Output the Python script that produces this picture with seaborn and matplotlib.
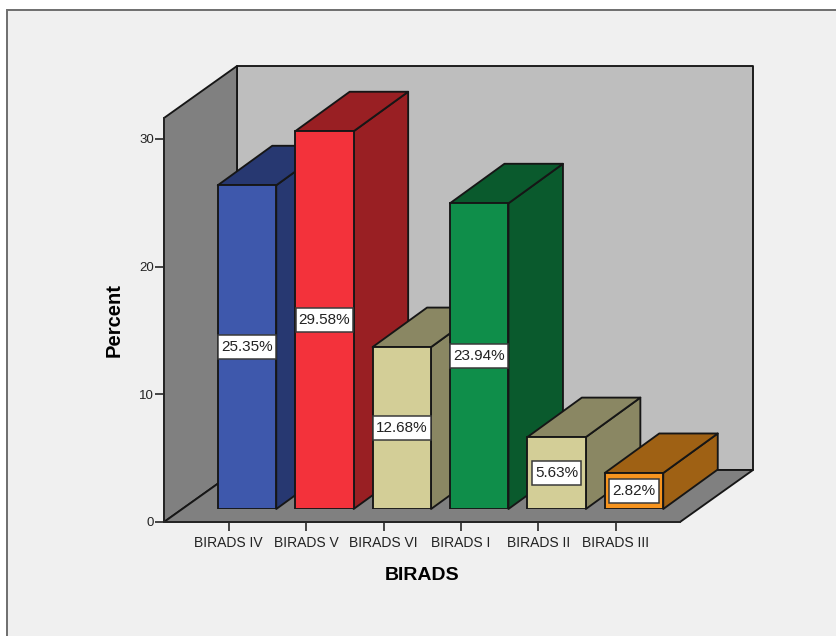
import matplotlib
matplotlib.use("Agg")
import matplotlib.pyplot as plt
import pandas as pd
import seaborn as sns
from matplotlib.patches import Polygon, Rectangle
from matplotlib.transforms import IdentityTransform

# Data
categories = ["BIRADS IV", "BIRADS V", "BIRADS VI", "BIRADS I", "BIRADS II", "BIRADS III"]
percents = [25.35, 29.58, 12.68, 23.94, 5.63, 2.82]
y_ticks = [0, 10, 20, 30]

front_colors = ["#3E58AC", "#F3323B", "#D3CE97", "#0F8E4A", "#D3CE97", "#F7941E"]
shade_colors = ["#273871", "#991F23", "#8A8763", "#0A5A2D", "#8A8763", "#9F6114"]

line_color = "#161616"
text_color = "#222222"
bg_color = "#F0F0F0"
edge_w = 1.35

# Pixel layout of the fake 3D box
W, H = 836, 636
box_left, box_right, box_bottom, box_top = 164, 680, 522, 118
px_per_unit = 12.77
floor_dx, floor_dy = 73, 52     # depth of the floor
bar_dx, bar_dy = 54.5, 39.5     # depth of a bar
shift_x, shift_y = 18.3, 13     # bars stand a bit behind the front edge
slot = 77.4
bar_width = 58.5 / slot

df = pd.DataFrame({"birads": categories, "percent": percents})

sns.set_theme(style="white")
plt.rcParams["font.family"] = ["Liberation Sans", "DejaVu Sans"]
plt.rcParams["axes.linewidth"] = edge_w

fig = plt.figure(figsize=(W / 100, H / 100), dpi=100, facecolor="white")

# Outer panel, runs off the right and bottom of the image
fig.add_artist(Rectangle((7, -10), W, H - 10 - 7 + 17, transform=IdentityTransform(),
                         facecolor=bg_color, edgecolor="#6e6e6e", linewidth=1.4, zorder=-1))

pos = [box_left / W, (H - box_bottom) / H, (box_right - box_left) / W, (box_bottom - box_top) / H]
ax = fig.add_axes(pos)
ax.patch.set_visible(False)
xlim = ((box_left - 228.7) / slot, (box_right - 228.7) / slot)
ylim = (0, (box_bottom - box_top) / px_per_unit)
ax.set_xlim(xlim)
ax.set_ylim(ylim)

# Walls and floor
ll = (box_left, H - box_bottom)
lr = (box_right, H - box_bottom)
ul = (box_left, H - box_top)
b_ll = (ll[0] + floor_dx, ll[1] + floor_dy)
b_lr = (lr[0] + floor_dx, lr[1] + floor_dy)
b_ul = (ul[0] + floor_dx, ul[1] + floor_dy)
b_ur = (b_lr[0], b_ul[1])
for verts, color in [([b_ll, b_lr, b_ur, b_ul], "#BEBEBE"),
                     ([ll, b_ll, b_ul, ul], "#808080"),
                     ([ll, lr, b_lr, b_ll], "#808080")]:
    ax.add_patch(Polygon(verts, closed=True, transform=IdentityTransform(), clip_on=False,
                         facecolor=color, edgecolor=line_color, linewidth=edge_w,
                         joinstyle="round", zorder=1))

sns.despine(ax=ax, top=True, right=True)
ax.set_xticks(range(len(categories)), categories)
ax.set_yticks(y_ticks)
ax.tick_params(axis="x", length=6.5, width=1.1, color=line_color, labelsize=10,
               labelcolor=text_color, pad=3.5, bottom=True)
ax.tick_params(axis="y", length=6.5, width=1.1, color=line_color, labelsize=9.5,
               labelcolor=text_color, pad=0.8, left=True)
ax.set_xlabel("BIRADS", fontsize=14, fontweight="bold", color="black", labelpad=12)
ax.set_ylabel("Percent", fontsize=14.5, fontweight="bold", color="black", labelpad=11)

# Bars live on a second axes, shifted into the box
ax_bars = fig.add_axes([pos[0] + shift_x / W, pos[1] + shift_y / H, pos[2], pos[3]])
sns.barplot(data=df, x="birads", y="percent", hue="birads", order=categories, hue_order=categories,
            palette=front_colors, width=bar_width, edgecolor=line_color, linewidth=edge_w,
            saturation=1, legend=False, ax=ax_bars)
ax_bars.set_xlim(xlim)
ax_bars.set_ylim(ylim)
ax_bars.set_axis_off()

to_px = ax_bars.transData.transform
labels = []
for i, container in enumerate(ax_bars.containers):
    for bar in container:
        bar.set_zorder(2 + i + 0.2)
        x0, x1 = bar.get_x(), bar.get_x() + bar.get_width()
        h = bar.get_height()
        (px0, py0), (px1, py1) = to_px((x0, 0)), to_px((x1, h))
        side = [(px1, py0), (px1 + bar_dx, py0 + bar_dy), (px1 + bar_dx, py1 + bar_dy), (px1, py1)]
        top = [(px0, py1), (px1, py1), (px1 + bar_dx, py1 + bar_dy), (px0 + bar_dx, py1 + bar_dy)]
        for verts in (side, top):
            ax_bars.add_patch(Polygon(verts, closed=True, transform=IdentityTransform(), clip_on=False,
                                      facecolor=shade_colors[i], edgecolor=line_color, linewidth=edge_w,
                                      joinstyle="round", zorder=2 + i))
    labels += ax_bars.bar_label(container, fmt="%.2f%%", label_type="center",
                                fontsize=11, color=text_color, zorder=20)

# White boxes behind the value labels
fig.canvas.draw()
renderer = fig.canvas.get_renderer()
for label in labels:
    ext = label.get_window_extent(renderer)
    cy = (ext.y0 + ext.y1) / 2
    ax_bars.add_patch(Rectangle((ext.x0 - 3, cy - 12), ext.width + 6, 24, transform=IdentityTransform(),
                                facecolor="white", edgecolor="#3a3a3a", linewidth=1.1, clip_on=False, zorder=15))

fig.savefig("out.png", dpi=100)
